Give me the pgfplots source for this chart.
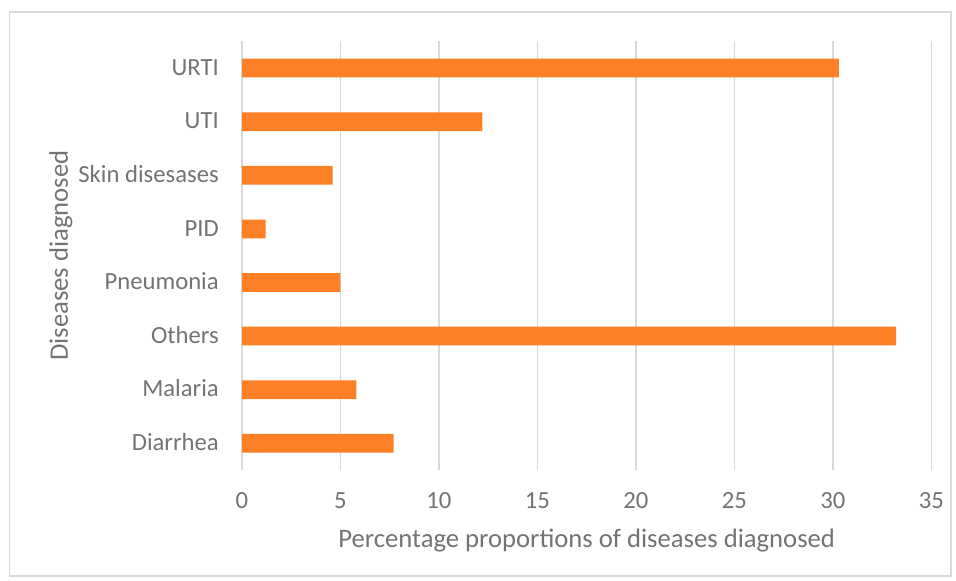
\documentclass[border=0pt]{standalone}
\usepackage{fontspec}
\setmainfont{Carlito}
\usepackage{pgfplots}
\pgfplotsset{compat=1.18}
\definecolor{barorange}{HTML}{FF7F27}
\definecolor{gridgray}{HTML}{D9D9D9}
\definecolor{txtgray}{HTML}{737373}
\begin{document}
\begin{tikzpicture}
\path[use as bounding box] (0pt,0pt) rectangle (717pt,435.75pt);
\draw[gridgray, line width=0.9pt] (7.125pt,3.75pt) rectangle (713.25pt,426.75pt);
\begin{axis}[
  at={(181.5pt,83.175pt)}, anchor=south west,
  scale only axis,
  width=517.1pt, height=321.6pt,
  xbar, bar width=0.35,
  xmin=0, xmax=35,
  ymin=-0.5, ymax=7.5,
  xtick={0,5,...,35},
  ytick={0,...,7},
  yticklabels={Diarrhea,Malaria,Others,Pneumonia,PID,Skin disesases,UTI,URTI},
  major tick length=0pt,
  axis line style={draw=none},
  xmajorgrids, grid style={gridgray, line width=0.9pt},
  /pgf/number format/assume math mode=true,
  tick label style={font=\fontsize{18.5}{21}\selectfont, text=txtgray},
  xticklabel style={anchor=base, inner sep=0pt, yshift=-28.5pt},
  yticklabel style={anchor=mid east, inner sep=0pt, xshift=-17.25pt, yshift=-3pt},
  xlabel={Percentage proportions of diseases diagnosed},
  ylabel={Diseases diagnosed},
  label style={font=\fontsize{20}{23}\selectfont, text=txtgray},
  xlabel style={at={(axis description cs:0.5,-0.1796)}, anchor=base, inner sep=0pt},
  ylabel style={at={(axis description cs:-0.2524,0.5)}, anchor=base, inner sep=0pt},
]
\addplot[fill=barorange, draw=none] coordinates {
  (7.7,0) (5.8,1) (33.2,2) (5.0,3) (1.2,4) (4.6,5) (12.2,6) (30.3,7)
};
\end{axis}
\end{tikzpicture}
\end{document}
